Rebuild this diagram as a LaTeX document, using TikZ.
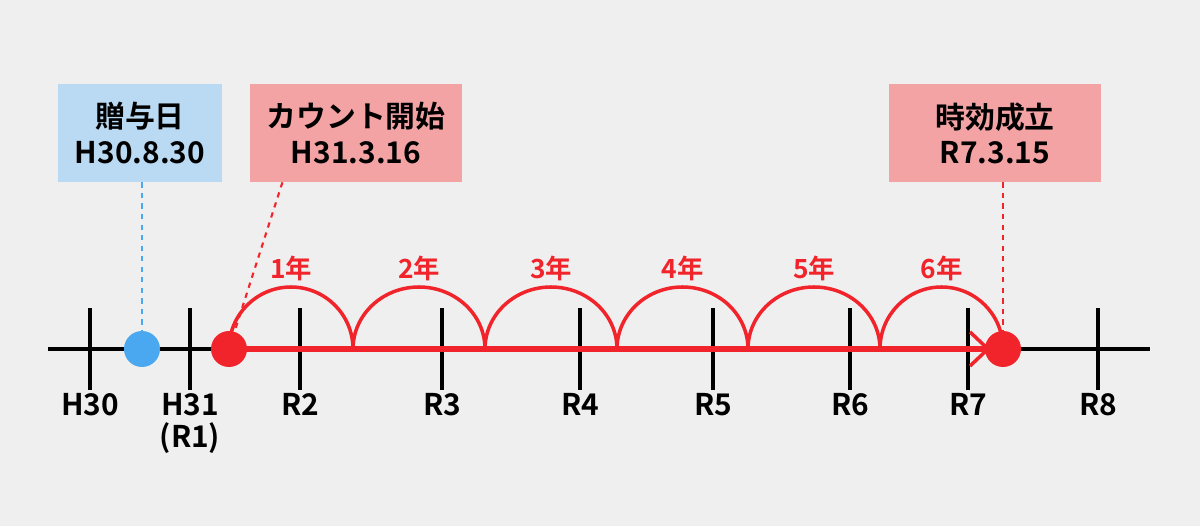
\documentclass[tikz,border=0pt]{standalone}
\usepackage{fontspec}
\setmainfont{Noto Sans CJK JP}[BoldFont={* Bold}]
\usetikzlibrary{positioning}
\definecolor{bggray}{HTML}{EFEFEF}
\definecolor{boxblue}{HTML}{B9DAF2}
\definecolor{boxred}{HTML}{F4A3A5}
\definecolor{dotblue}{HTML}{4AA8F0}
\definecolor{linered}{HTML}{F0242A}
\tikzset{
  datebox/.style={minimum width=4.25cm,minimum height=1.96cm,align=center,
    font=\fontsize{17}{20}\selectfont\bfseries},
  tick/.style={line width=2.3pt},
  ticklabel/.style={align=center,font=\fontsize{17}{18}\selectfont\bfseries},
  yearlabel/.style={text=linered,font=\fontsize{15}{18}\selectfont\bfseries},
  event/.style={circle,inner sep=0pt,minimum size=0.72cm}
}
\begin{document}
\begin{tikzpicture}[x=0.02cm,y=-0.02cm]
  % Background
  \fill[bggray] (0,0) rectangle (1200,526);

  % Timeline
  \draw[line width=2.3pt] (48,349) -- (1150,349);
  \foreach \x/\t in {90/H30,190/{H31\\(R1)},300/R2,442/R3,580/R4,713/R5,850/R6,968/R7,1098/R8}
    \draw[tick] (\x,308) -- (\x,390) node[ticklabel,anchor=north,inner sep=1pt] {\t};

  % Count period
  \draw[linered,line width=3.4pt] (229,349) -- (1003,349);
  \foreach \a/\b/\n in {229/353/1,353/485/2,485/617/3,617/748/4,748/880/5,880/1003/6}{
    \draw[linered,line width=2pt] (\a,349) arc[start angle=180,end angle=0,x radius={(\b-\a)/2},y radius=-62];
    \node[yearlabel] (y\n) at ({(\a+\b)/2},268) {\n 年};
  }
  \draw[linered,line width=2pt] (970,332) -- (988,349) -- (970,366);

  % Events
  \node[event,fill=dotblue] (gift)  at (142,349) {};
  \node[event,fill=linered] (start) at (229,349) {};
  \node[event,fill=linered] (end)   at (1003,349) {};

  % Boxes
  \node[datebox,fill=boxblue,minimum width=3.28cm] (giftbox) at (140,133) {贈与日\\H30.8.30};
  \node[datebox,fill=boxred] (startbox) at (356,133) {カウント開始\\H31.3.16};
  \node[datebox,fill=boxred] (endbox) at (995,133) {時効成立\\R7.3.15};

  \draw[dotblue,dashed,line width=1.2pt] (giftbox.south -| gift) -- (gift);
  \draw[linered,dashed,line width=1.2pt] (startbox.south west) ++(33,0) coordinate (s1) -- (start);
  \draw[linered,dashed,line width=1.2pt] (endbox.south -| end) -- (end);
\end{tikzpicture}
\end{document}
